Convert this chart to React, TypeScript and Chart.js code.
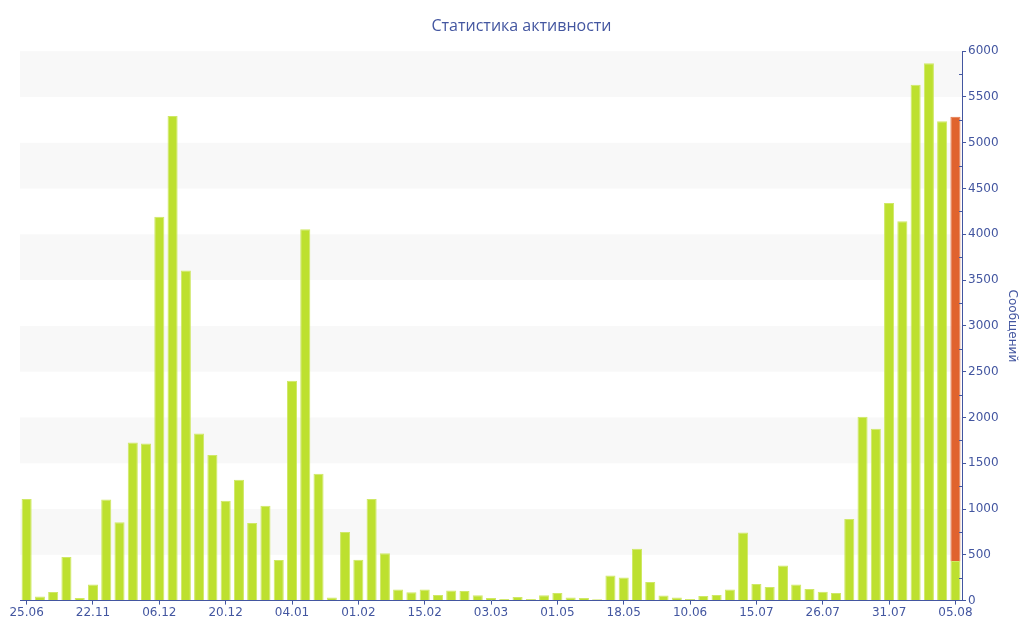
import { useEffect, useRef } from "react";
import { Chart, registerables } from "chart.js";

Chart.register(...registerables);

// one label every fifth day
const tickLabels = [
  "25.06", "22.11", "06.12", "20.12", "04.01", "01.02", "15.02", "03.03",
  "01.05", "18.05", "10.06", "15.07", "26.07", "31.07", "05.08",
];

// messages per day
const messages = [
  1110, 45, 95, 476, 29, 175, 1105, 855, 1727, 1716,
  4193, 5291, 3604, 1825, 1589, 1091, 1320, 847, 1036, 444,
  2400, 4055, 1385, 33, 749, 447, 1109, 516, 120, 91,
  120, 62, 109, 105, 58, 29, 18, 40, 18, 58,
  84, 33, 29, 15, 273, 251, 567, 204, 55, 33,
  18, 51, 62, 120, 745, 182, 149, 382, 175, 127,
  98, 84, 891, 2007, 1876, 4342, 4142, 5633, 5869, 5236,
  433,
];

// extra part on the last (current) day
const todayExtra = 4850;

const axisColor = "#4356a0";
const green = "#bde02f";
const orange = "#e0632e";

const labels = messages.map((_, i) => (i % 5 === 0 ? tickLabels[i / 5] : ""));
const extraSeries = messages.map((_, i) => (i === messages.length - 1 ? todayExtra : null));

const bandsPlugin = {
  id: "bands",
  beforeDraw(chart: any) {
    const { ctx, chartArea } = chart;
    const y = chart.scales.y;
    ctx.save();
    ctx.fillStyle = "#f8f8f8";
    for (let v = 500; v < 6000; v += 1000) {
      const top = y.getPixelForValue(v + 500);
      const bottom = y.getPixelForValue(v);
      ctx.fillRect(chartArea.left, top, chartArea.right - chartArea.left, bottom - top);
    }
    ctx.restore();
  },
  afterDraw(chart: any) {
    const { ctx } = chart;
    const y = chart.scales.y;
    ctx.save();
    ctx.strokeStyle = axisColor;
    ctx.lineWidth = 1;
    for (let v = 250; v < 6000; v += 500) {
      const py = Math.round(y.getPixelForValue(v)) + 0.5;
      ctx.beginPath();
      ctx.moveTo(y.left - 3, py);
      ctx.lineTo(y.left, py);
      ctx.stroke();
    }
    ctx.restore();
  },
};

export default function App() {
  const canvasRef = useRef<HTMLCanvasElement | null>(null);

  useEffect(() => {
    if (!canvasRef.current) return;
    const chart = new Chart(canvasRef.current, {
      type: "bar",
      data: {
        labels,
        datasets: [
          {
            label: "Сообщений",
            data: messages,
            backgroundColor: green,
            borderColor: "#cfe866",
            borderWidth: 1,
            categoryPercentage: 1,
            barPercentage: 0.76,
          },
          {
            label: "Сегодня",
            data: extraSeries,
            backgroundColor: orange,
            borderColor: "#e4784a",
            borderWidth: 1,
            categoryPercentage: 1,
            barPercentage: 0.76,
          },
        ],
      },
      options: {
        animation: false,
        responsive: false,
        layout: { padding: { left: 20, right: 1, top: 2, bottom: 19 } },
        plugins: {
          legend: { display: false },
          tooltip: { enabled: false },
          title: {
            display: true,
            text: "Статистика активности",
            color: axisColor,
            font: { family: "Open Sans", size: 16, weight: "normal" },
            padding: { top: 15, bottom: 15 },
          },
        },
        scales: {
          x: {
            stacked: true,
            grid: {
              offset: false,
              drawOnChartArea: false,
              drawTicks: true,
              tickLength: 4,
              color: axisColor,
            },
            border: { display: true, color: axisColor },
            ticks: {
              autoSkip: false,
              maxRotation: 0,
              padding: 1,
              color: axisColor,
              font: { family: "DejaVu Sans", size: 12 },
              callback: (_v: any, i: number) => (labels[i] ? labels[i] : null),
            },
          },
          y: {
            stacked: true,
            position: "right",
            min: 0,
            max: 6000,
            grid: {
              drawOnChartArea: false,
              drawTicks: true,
              tickLength: 4,
              color: axisColor,
            },
            border: { display: true, color: axisColor },
            ticks: {
              stepSize: 500,
              padding: 2,
              color: axisColor,
              font: { family: "DejaVu Sans", size: 12 },
              callback: (v: any) => String(v),
            },
            title: {
              display: true,
              text: "Сообщений",
              color: axisColor,
              font: { family: "DejaVu Sans", size: 12 },
              padding: { top: 4, bottom: 4 },
            },
          },
        },
      },
      plugins: [bandsPlugin],
    });
    return () => chart.destroy();
  }, []);

  return (
    <div style={{ position: "absolute", left: 0, top: 0, width: 1024, height: 640, background: "#fff" }}>
      <canvas ref={canvasRef} width={1024} height={640} />
    </div>
  );
}
